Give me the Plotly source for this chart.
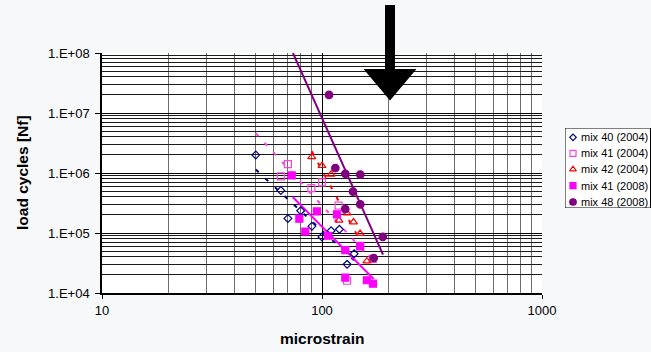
import plotly.graph_objects as go

# ---------------- data ----------------
series_names = ["mix 40 (2004)", "mix 41 (2004)", "mix 42 (2004)", "mix 41 (2008)", "mix 48 (2008)"]

mix40_2004_x = [50, 65, 70, 80, 90, 100, 110, 120, 140, 130]
mix40_2004_y = [2.0e6, 5.1e5, 1.75e5, 2.35e5, 1.3e5, 8.6e4, 1.09e5, 1.15e5, 4.5e4, 3.0e4]

mix41_2004_x = [70, 65, 89.5, 100, 119, 149, 170, 130]
mix41_2004_y = [1.41e6, 8.8e5, 5.6e5, 7.0e5, 2.85e5, 6.1e4, 3.7e4, 1.6e4]

mix42_2004_x = [89.8, 100, 110, 119.5, 130, 139, 149, 160]
mix42_2004_y = [1.85e6, 1.32e6, 9.5e5, 1.62e5, 2.15e5, 1.52e5, 9.8e4, 3.4e4]

mix41_2008_x = [72.8, 78.9, 84, 94.8, 106.4, 117, 127.6, 149, 127.6, 160, 170.5]
mix41_2008_y = [9.1e5, 1.73e5, 1.06e5, 2.29e5, 9.0e4, 2.05e5, 5.2e4, 6.0e4, 1.8e4, 1.63e4, 1.43e4]

mix48_2008_x = [107.6, 115, 127.6, 149.3, 138.3, 149.3, 127.6, 189, 171.8]
mix48_2008_y = [2.0e7, 1.21e6, 9.7e5, 9.4e5, 4.9e5, 3.0e5, 2.5e5, 8.6e4, 3.83e4]

# trend lines (end points)
trend40_x = [50, 140]
trend40_y = [1.14e6, 3.5e4]
trend41_04_x = [50, 168]
trend41_04_y = [4.6e6, 3.6e4]
trend42_x = [89.8, 160]
trend42_y = [2.3e6, 4.6e4]
trend41_08_x = [73.6, 171.7]
trend41_08_y = [3.98e5, 1.71e4]
trend48_x = [73.8, 189.4]
trend48_y = [1.0e8, 4.35e4]

x_tickvals = [10, 100, 1000]
x_ticktext = ["10", "100", "1000"]
y_tickvals = [1e4, 1e5, 1e6, 1e7, 1e8]
y_ticktext = ["1.E+04", "1.E+05", "1.E+06", "1.E+07", "1.E+08"]

x_title = "microstrain"
y_title = "load cycles [Nf]"

# ---------------- styling ----------------
W, H = 651, 352
PL, PR, PT, PB = 102, 542, 53, 293
FONT = "Arial, Liberation Sans, sans-serif"
BG = "#f7f8f9"

NAVY = "#000080"
PINK = "#ff44dd"
RED = "#ff0000"
MAGENTA = "#ff00ff"
PURPLE = "#800080"

styles = [
    dict(symbol="diamond-open", color=NAVY, size=6),
    dict(symbol="square-open", color=PINK, size=7),
    dict(symbol="triangle-up-open", color=RED, size=7),
    dict(symbol="square", color=MAGENTA, size=7),
    dict(symbol="circle", color=PURPLE, size=7.5),
]

def pxx(x):
    return x / W

def pyy(y):
    return 1 - y / H

fig = go.Figure()

# trend lines
dash_style = "4px,9px"
fig.add_trace(go.Scatter(x=trend40_x, y=trend40_y, mode="lines",
                         line=dict(color=NAVY, width=2, dash=dash_style), showlegend=False, hoverinfo="skip"))
fig.add_trace(go.Scatter(x=trend41_04_x, y=trend41_04_y, mode="lines",
                         line=dict(color=PINK, width=2, dash=dash_style), showlegend=False, hoverinfo="skip"))
fig.add_trace(go.Scatter(x=trend42_x, y=trend42_y, mode="lines",
                         line=dict(color=RED, width=2, dash=dash_style), showlegend=False, hoverinfo="skip"))
fig.add_trace(go.Scatter(x=trend41_08_x, y=trend41_08_y, mode="lines",
                         line=dict(color=MAGENTA, width=2), showlegend=False, hoverinfo="skip"))
fig.add_trace(go.Scatter(x=trend48_x, y=trend48_y, mode="lines",
                         line=dict(color=PURPLE, width=2), showlegend=False, hoverinfo="skip"))

all_x = [mix40_2004_x, mix41_2004_x, mix42_2004_x, mix41_2008_x, mix48_2008_x]
all_y = [mix40_2004_y, mix41_2004_y, mix42_2004_y, mix41_2008_y, mix48_2008_y]

for name, xs, ys, st in zip(series_names, all_x, all_y, styles):
    fig.add_trace(go.Scatter(
        x=xs, y=ys, mode="markers", name=name, showlegend=False,
        marker=dict(symbol=st["symbol"], size=st["size"], color=st["color"],
                    line=dict(color=st["color"], width=1.2)),
    ))

# ---------------- manual legend on an auxiliary axis (pixel units) ----------------
LEG_L, LEG_R, LEG_T, LEG_B = 565, 650.5, 128, 208
leg_rows = [137.3, 153.3, 169.3, 185.6, 202.0]
for name, st, ry in zip(series_names, styles, leg_rows):
    fig.add_trace(go.Scatter(
        x=[573], y=[ry], mode="markers", xaxis="x2", yaxis="y2", showlegend=False,
        marker=dict(symbol=st["symbol"], size=st["size"] - 1, color=st["color"],
                    line=dict(color=st["color"], width=1.2)),
        hoverinfo="skip",
    ))

annotations = []
for name, ry in zip(series_names, leg_rows):
    annotations.append(dict(x=579, y=ry, xref="x2", yref="y2", text=name, showarrow=False,
                            xanchor="left", yanchor="middle",
                            font=dict(family=FONT, size=11, color="#000")))

# axis titles
annotations.append(dict(x=pxx(322), y=pyy(338.5), xref="paper", yref="paper", text="<b>%s</b>" % x_title,
                        showarrow=False, xanchor="center", yanchor="middle",
                        font=dict(family=FONT, size=15.5, color="#000")))
annotations.append(dict(x=pxx(22), y=pyy(173), xref="paper", yref="paper", text="<b>%s</b>" % y_title,
                        showarrow=False, xanchor="center", yanchor="middle", textangle=-90,
                        font=dict(family=FONT, size=15.5, color="#000")))

shapes = []
# legend box
shapes.append(dict(type="rect", xref="x2", yref="y2", x0=LEG_L, x1=LEG_R, y0=LEG_T, y1=LEG_B,
                   line=dict(color="#000", width=1), fillcolor="#ffffff", layer="below"))

# big black arrow (decoration, pixel positions)
arrow_pts = [(385, 5), (395, 5), (395, 69), (416.5, 69), (390, 100.5), (363.5, 69), (385, 69)]
path = "M " + " L ".join("%.5f %.5f" % (pxx(a), pyy(b)) for a, b in arrow_pts) + " Z"
shapes.append(dict(type="path", xref="paper", yref="paper", path=path,
                   fillcolor="#000", line=dict(color="#000", width=0), layer="above"))

fig.update_layout(
    width=W, height=H,
    margin=dict(l=0, r=0, t=0, b=0),
    paper_bgcolor=BG,
    plot_bgcolor="#ffffff",
    font=dict(family=FONT, size=13, color="#000"),
    showlegend=False,
    annotations=annotations,
    shapes=shapes,
    xaxis=dict(
        type="log", range=[1, 3], domain=[PL / W, PR / W], anchor="y",
        tickmode="array", tickvals=x_tickvals, ticktext=x_ticktext,
        ticks="outside", ticklen=4, tickcolor="#000", tickwidth=1,
        ticklabelstandoff=1,
        showline=True, linecolor="#000", linewidth=1.5, mirror=False,
        showgrid=True, gridcolor="#000", gridwidth=1,
        minor=dict(dtick="D1", showgrid=True, gridcolor="#6e6e6e", gridwidth=1.2, ticks=""),
        zeroline=False, automargin=False,
        tickfont=dict(family=FONT, size=13, color="#000"),
    ),
    yaxis=dict(
        type="log", range=[4, 8], domain=[1 - PB / H, 1 - PT / H], anchor="x",
        tickmode="array", tickvals=y_tickvals, ticktext=y_ticktext,
        ticks="outside", ticklen=5, tickcolor="#000", tickwidth=1,
        ticklabelstandoff=3,
        showline=True, linecolor="#000", linewidth=1.5, mirror=False,
        showgrid=True, gridcolor="#000", gridwidth=1,
        minor=dict(dtick="D1", showgrid=True, gridcolor="#1a1a1a", gridwidth=1, ticks=""),
        zeroline=False, automargin=False,
        tickfont=dict(family=FONT, size=13, color="#000"),
    ),
    xaxis2=dict(domain=[LEG_L / W, 1.0], range=[LEG_L, W], anchor="y2", visible=False, fixedrange=True),
    yaxis2=dict(domain=[1 - LEG_B / H, 1 - LEG_T / H], range=[LEG_B, LEG_T], anchor="x2",
                visible=False, fixedrange=True),
)

fig.write_html(
    "out.html",
    config={"displayModeBar": False},
    post_script="document.body.style.margin='0';document.body.style.overflow='hidden';"
                "document.body.style.background='%s';" % BG,
)
